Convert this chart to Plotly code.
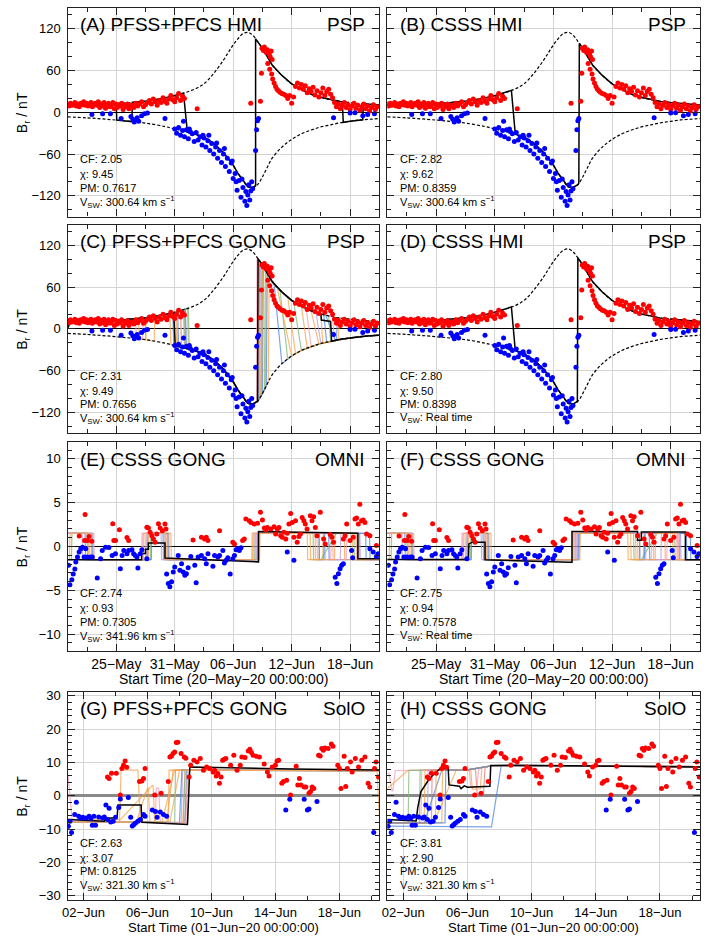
import numpy as np
import plotly.graph_objects as go

FONT = "Liberation Sans, Arial, Helvetica, sans-serif"
MINUS = "\u2212"

# ---------------- PSP, days since 20-May-20 00:00 ----------------
psp_day = [
    0.0, 0.15, 0.3, 0.45, 0.6, 0.75, 0.9, 1.05, 1.2, 1.35, 1.5, 1.65, 1.8, 1.95, 2.1, 2.25, 2.4, 2.55, 2.7, 2.85,
    3.0, 3.15, 3.3, 3.45, 3.6, 3.75, 3.9, 4.05, 4.2, 4.35, 4.5, 4.65, 4.8, 4.95, 5.1, 5.25, 5.4, 5.55, 5.7, 5.85,
    6.0, 6.15, 6.3, 6.45,
    2.5, 3.6, 4.4, 5.5, 6.5, 6.7, 6.85, 7.0, 7.15, 7.3, 7.6, 7.9, 8.2, 10.0, 11.9,
    6.6, 6.8, 7.0, 7.2, 7.4, 7.6, 7.8, 8.0, 8.2, 8.4, 8.6, 8.8, 9.0, 9.2, 9.4, 9.6, 9.8, 10.0, 10.2, 10.4,
    10.6, 10.8, 11.0, 11.2, 11.4, 11.6, 11.8, 12.0, 13.3,
    11.0, 11.2, 11.4, 11.6, 11.8, 12.0, 12.2, 12.4, 12.6, 12.8, 13.0, 13.2, 13.4, 13.6, 13.8, 14.0, 14.2, 14.4,
    14.6, 14.8, 15.0, 15.2, 15.4, 15.6, 15.8, 16.0, 16.2, 16.4, 16.6, 16.8, 17.0, 17.2, 17.4, 17.6, 17.8, 18.0,
    18.2, 18.3, 18.4, 18.5, 18.6, 18.7, 18.8, 18.9, 19.0, 19.3, 19.4, 19.5, 19.6,
    14.5, 15.3, 16.1, 16.9, 17.3, 17.9, 12.5, 13.9,
    18.8, 19.8, 19.9, 19.95, 20.1, 20.2, 20.4, 20.5, 20.7, 20.8, 20.9, 21.0, 20.55, 20.75, 20.95, 21.05,
    21.2, 21.35, 21.5, 21.65, 21.8, 22.0, 22.2, 22.4, 22.6, 22.8, 23.0, 23.2, 23.4, 23.6, 23.8, 24.0, 24.2, 24.4,
    24.6, 24.8, 25.0, 25.2, 25.4, 25.6, 25.8, 26.0, 26.2, 26.4, 26.6, 26.8, 27.0, 27.2, 27.4, 27.6, 27.8, 28.0,
    28.2, 28.4, 28.6, 28.8, 29.0, 29.2, 29.4, 29.6, 29.8, 30.0, 30.2, 30.4, 30.6, 30.8, 31.0, 31.2, 31.4, 31.6,
    31.8,
    27.3, 29.0, 29.5, 30.3, 30.8, 31.5,
]
psp_br = [
    12, 9, 13, 10, 11, 14, 9, 12, 8, 13, 11, 15, 10, 13, 9, 12, 14, 8, 11, 13,
    10, 15, 7, 12, 9, 14, 6, 11, 13, 8, 10, 14, 5, 12, 7, 11, 9, 13, 4, 10,
    8, 12, 5, 9,
    -3, -2, -2, -9, -6, -10, -14, -11, -8, -13, -5, -2, -1, -9, -13,
    10, 7, 13, 9, 12, 15, 8, 11, 14, 17, 12, 19, 15, 10, 17, 14, 21, 16, 13, 19,
    24, 18, 15, 21, 27, 17, 23, 20, 5,
    -24, -30, -22, -33, -26, -35, -25, -38, -28, -31, -42, -29, -40, -35, -47, -37, -50, -41,
    -55, -45, -60, -50, -66, -55, -72, -60, -78, -66, -85, -73, -95, -88, -112, -98, -122, -108,
    -128, -114, -134, -119, -104, -126, -113, -100, -110, -55, -25, -12, -9,
    -33, -44, -52, -70, -100, -96, -24, -33,
    13, 16, 56, 92, 89, 94, 86, 90, 84, 80, 88, 76, 70, 62, 55, 48,
    42, 37, 33, 31, 29, 27, 26, 24, 20, 24, 13, 22, 37, 42, 35, 40, 33, 38,
    28, 34, 30, 36, 25, 31, 22, 28, 35, 24, 30, 33, 26, 21, 14, 8, 12, 5,
    10, 14, 7, 11, 4, 9, 13, 6, 10, 3, 8, 12, 5, 9, 2, 7, 11, 4,
    8,
    -8, -1, -0.5, -5, -3, -2,
]

# model envelope (dashed), PSP
env_day = [0, 2, 4, 6, 8, 10, 11, 12, 13, 14, 15, 16, 16.5, 17, 17.5, 18, 18.5, 19, 19.5, 20, 20.5, 21,
           22, 23, 24, 25, 26, 27, 28, 29, 30, 31, 32]
env_up = [10, 11, 12, 13.5, 16, 20.5, 24, 28, 33, 41, 56, 75, 86, 97, 106, 113, 115, 111, 102, 92, 80, 68,
          53, 41, 33, 26, 21.5, 18, 15.5, 14, 12.5, 11.5, 10.5]
env_lo = [-6.5, -8, -10, -12.5, -15.5, -20.5, -24, -27.5, -31, -36, -45, -58, -67, -76, -88, -98, -107, -108,
          -104, -93, -79, -66, -50, -39, -31, -25.5, -21, -18, -15, -13, -11, -10, -9]

# polarity segments (start day, end day, factor: + upper / - lower)
model_a = [(0, 5.0, 1), (5.05, 6.6, -1), (6.65, 11.9, 1), (12.3, 19.3, -1), (19.3, 28.2, 1),
           (28.3, 30.3, -1), (30.35, 32, 1)]
model_b = [(0, 12.7, 1), (13.1, 19.6, -1), (19.65, 32, 1)]
model_c = [(0, 0, 0.05), (0.3, 10.9, 1), (11.05, 19.5, -1), (19.55, 26.0, 1), (26.05, 27.0, 0.6),
           (27.1, 32, -1)]
model_d = [(0, 12.7, 1), (13.1, 19.45, -1), (19.5, 28.7, 1), (28.85, 28.85, 0.2), (29.0, 32, 1)]

ens_c = [
    ("blue", [(0, 11.3, 1), (11.4, 19.6, -1), (19.7, 21.2, 1), (22.0, 32, -1)]),
    ("orange", [(0, 7.3, 1), (7.35, 8.0, -1), (8.05, 11.6, 1), (11.7, 19.8, -1), (19.9, 22.6, 1), (23.4, 32, -1)]),
    ("green", [(0, 11.9, 1), (12.0, 19.9, -1), (20.0, 21.8, 1), (22.6, 32, -1)]),
    ("pink", [(0, 7.0, 1), (7.05, 7.7, -1), (7.75, 12.0, 1), (12.05, 19.4, -1), (19.45, 24.5, 1), (25.0, 32, -1)]),
    ("purple", [(0, 10.9, 1), (11.0, 19.7, -1), (19.8, 25.5, 1), (26.0, 32, -1)]),
    ("orange", [(0, 12.3, 1), (12.4, 20.3, -1), (20.4, 24.0, 1), (24.6, 32, -1)]),
    ("blue", [(0, 10.8, 1), (10.9, 20.0, -1), (20.1, 26.3, 1), (26.6, 27.6, -1), (27.7, 32, 1)]),
    ("green", [(0, 12.4, 1), (12.5, 19.9, -1), (20.0, 23.2, 1), (24.0, 32, -1)]),
    ("orange", [(0, 8.0, 1), (8.05, 8.9, -1), (8.95, 11.2, 1), (11.3, 20.6, -1), (20.7, 26.0, 1), (26.2, 27.8, -1),
                (27.9, 32, 1)]),
    ("pink", [(0, 11.6, 1), (11.7, 19.5, -1), (19.6, 27.2, 1), (27.4, 32, -1)]),
    ("orange", [(0, 11.1, 1), (11.2, 19.9, -1), (20.0, 25.0, 1), (25.8, 32, -1)]),
    ("green", [(0, 12.0, 1), (12.1, 20.2, -1), (20.3, 26.8, 1), (27.0, 32, -1)]),
    ("orange", [(0, 10.5, 1), (10.6, 19.5, -1), (19.6, 21.5, 1), (23.0, 32, -1)]),
    ("blue", [(0, 12.1, 1), (12.2, 20.4, -1), (20.5, 26.5, 1), (27.5, 32, -1)]),
]

# ---------------- OMNI, days since 20-May-20 00:00 ----------------
omni_day = [
    0.1, 0.24, 0.44, 0.58, 0.75, 0.85, 1.02, 1.19, 1.36, 1.53, 1.7, 1.87, 2.03, 2.37, 2.54, 3.05, 3.39, 3.56,
    3.9, 4.24, 4.58, 4.92, 5.42, 5.6, 5.77, 6.1, 6.27, 6.61, 6.78, 6.95, 7.12, 7.22, 7.46, 7.63, 8.14,
    1.2, 1.8, 1.75, 2.03, 2.2, 2.48, 4.64, 4.75, 4.92, 5.32, 6.1, 6.27, 8.14, 8.3, 8.48, 8.65, 8.82, 8.99,
    9.16, 9.33, 9.5, 9.73, 10.0, 10.1,
    10.17, 10.34, 10.5, 10.68, 10.85, 11.0, 11.36, 11.53, 11.7, 11.87, 12.04, 12.2, 12.38, 12.65, 13.06, 13.2,
    13.4, 13.74, 14.07, 14.24, 14.41, 14.92, 15.09, 15.43, 15.6, 15.94, 16.1, 16.28, 16.45, 16.69, 16.96,
    17.13, 17.3, 17.46, 17.63, 17.8,
    12.88, 13.74, 14.07, 14.24, 14.41, 15.6, 16.96, 17.13,
    17.97, 18.14, 18.3, 18.65, 18.82, 19.15, 19.5, 19.8, 20.0, 20.2, 20.35, 20.5, 20.86, 21.2, 21.36, 21.53,
    21.7, 21.87, 22.04, 22.2, 22.4, 22.55, 22.72, 22.9, 23.06, 23.23, 23.4, 23.57, 23.74, 23.9, 24.08, 24.25,
    24.4, 24.58, 24.92, 25.09, 25.26, 25.43, 25.6, 25.94, 26.28, 26.45, 26.96, 27.13, 27.3, 28.31, 28.48,
    28.65, 28.99, 29.32, 29.5, 29.67, 29.84, 30.0, 30.18, 30.35, 30.52, 30.69, 31.03, 31.7,
    22.55, 23.23, 27.47, 27.64, 27.8, 27.97, 28.14, 28.31, 29.15, 29.26, 31.03, 31.37, 31.7, 31.87,
]
omni_br = [
    -2.15, -4.37, -3.8, -3.13, -2.56, -1.77, -1.2, -0.64, -0.26, -0.08, -1.2, -0.26, -1.2, -1.2, -1.2, -3.6,
    -1.4, -0.45, -0.08, -0.1, -1.02, -0.83, -2.53, -1.02, -0.45, -0.83, -0.45, -0.38, -0.83, -1.02, -1.2,
    -2.45, -0.83, -0.38, -1.4,
    1.2, 3.65, 0.68, 0.68, 1.13, 0.6, 2.6, 0.68, 0.68, 1.92, 1.02, 0.68, 2.2, 2.11, 1.62, 1.24, 0.87, 0.5,
    1.43, 2.6, 2.11, 1.81, 2.56, 2.0,
    -3.13, -4.22, -4.6, -4.03, -2.9, -2.34, -1.02, -2.71, -1.96, -2.9, -3.28, -3.1, -2.41, -1.13, -2.15,
    -4.14, -1.2, -1.02, -1.4, -1.96, -0.83, -2.26, -1.02, -1.2, -1.02, -0.45, -1.88, -1.58, -1.28, -3.13,
    -1.4, -1.02, -0.38, -0.26, -0.45, -0.15,
    0.75, 1.05, 0.87, 1.05, 0.68, 1.81, 0.49, 0.3,
    0.68, 0.87, 3.13, 2.94, 2.75, 2.56, 2.64, 3.9, 3.01, 2.11, 1.88, 2.18, 2.0, 2.26, 1.43, 2.0,
    2.18, 1.24, 1.05, 1.62, 0.87, 1.51, 2.56, 3.77, 2.75, 1.05, 2.94, 0.49, 1.13, 1.43, 3.32, 2.94,
    2.56, 2.0, 3.5, 2.94, 3.39, 2.18, 1.24, 3.9, 0.87, 0.3, 1.36, 1.05, 0.49, 0.87, 1.24,
    2.56, 0.68, 1.05, 3.13, 3.24, 2.56, 4.82, 2.94, 3.01, 2.75, 1.43, 1.24, 0.11,
    -0.64, -1.58, -3.5, -4.22, -3.1, -2.53, -2.15, -1.96, -0.45, -1.28, -0.26, -0.64, -1.13, -0.83,
]

omni_env_day = [0, 32]
omni_env_up = [1.5, 1.5]
omni_env_lo = [-1.5, -1.5]

model_e_day = [0, 7.6, 7.6, 8.0, 8.0, 8.3, 8.3, 10.0, 10.0, 14, 19.6, 19.6, 25, 29.8, 29.8, 32]
model_e_br = [-1.5, -1.5, -0.8, -0.8, -0.3, -0.3, 0.4, 0.4, -1.3, -1.5, -1.75, 1.7, 1.6, 1.5, -1.4, -1.4]
model_f_day = [0, 8.3, 8.35, 8.7, 10.0, 10.0, 18.6, 18.9, 18.9, 25.6, 25.6, 26.0, 26.0, 30.5, 30.5, 32]
model_f_br = [-1.47, -1.47, 0.3, 0.5, 0.5, -1.5, -1.8, -1.8, 1.7, 1.7, 0.7, 0.7, 1.65, 1.65, -1.5, -1.5]

ens_omni = [
    ("pink", [(0, 2.2, 1), (2.25, 7.6, -1), (7.65, 10.2, 1), (10.25, 19.3, -1), (19.35, 25.6, 1), (25.65, 27.0, -1),
              (27.1, 29.6, 1), (29.65, 32, -1)]),
    ("orange", [(0, 2.6, 1), (2.65, 8.0, -1), (8.05, 10.4, 1), (10.45, 19.0, -1), (19.05, 25.4, 1),
                (25.45, 26.2, -1), (26.25, 29.2, 1), (29.25, 32, -1)]),
    ("blue", [(0, 1.8, 1), (1.85, 8.2, -1), (8.25, 9.8, 1), (9.85, 19.5, -1), (19.55, 26.8, 1), (26.85, 29.9, -1),
              (29.95, 30.6, 1), (30.65, 32, -1)]),
    ("green", [(0, 0.4, -1), (0.45, 2.0, 1), (2.05, 8.5, -1), (8.55, 10.0, 1), (10.05, 19.2, -1), (19.25, 25.2, 1),
               (25.25, 26.0, -1), (27.6, 29.4, 1), (29.45, 32, -1)]),
    ("orange", [(0, 2.4, 1), (2.45, 7.8, -1), (7.85, 10.6, 1), (10.65, 18.9, -1), (18.95, 24.6, 1),
                (24.65, 25.8, -1), (25.85, 28.4, 1), (28.45, 32, -1)]),
    ("purple", [(0, 1.5, 1), (1.55, 8.1, -1), (8.15, 9.6, 1), (9.65, 19.4, -1), (19.45, 26.4, 1), (26.45, 28.0, -1),
                (28.05, 30.0, 1), (30.05, 32, -1)]),
    ("blue", [(0, 2.5, 1), (2.55, 8.6, -1), (8.65, 10.3, 1), (10.35, 19.6, -1), (19.65, 25.8, 1), (25.85, 26.3, -1),
              (26.35, 31.0, 1), (31.05, 32, -1)]),
    ("pink", [(0, 2.7, 1), (2.75, 7.7, -1), (7.75, 9.9, 1), (9.95, 19.1, -1), (19.15, 27.2, 1), (27.25, 28.6, -1),
              (28.65, 29.8, 1), (29.85, 32, -1)]),
    ("orange", [(0, 0.2, -1), (0.25, 2.1, 1), (2.15, 8.3, -1), (8.35, 10.1, 1), (10.15, 19.7, -1), (19.75, 24.9, 1),
                (24.95, 27.4, -1), (27.45, 29.7, 1), (29.75, 32, -1)]),
]

# ---------------- SolO, days since 01-Jun-20 00:00 ----------------
solo_day = [
    0.05, 0.15, 0.25, 0.45, 0.55, 0.7, 0.8, 0.95, 1.15, 1.35, 1.45, 1.55, 1.65, 1.75, 1.95, 2.2, 2.3, 2.4, 2.5,
    2.6, 2.7, 2.85, 3.0, 3.2, 3.3, 3.8, 3.95, 4.05, 4.15, 4.25, 4.4, 4.55, 4.75, 4.85, 5.3, 5.5, 5.6, 5.8, 6.0,
    6.2, 13.65, 13.9, 14.8, 15.0, 15.1, 15.6, 19.15,
    2.5, 2.6, 2.75, 3.05, 3.3, 3.4, 3.5, 3.6, 3.7, 4.5, 4.65, 4.75, 4.85, 5.45, 5.85, 6.3, 6.4, 6.5, 6.6, 6.7,
    6.8, 6.9, 7.1, 7.3, 7.4, 7.6, 7.7, 7.9, 8.1, 8.3, 8.5, 8.7, 8.9, 9.1, 9.2, 9.3, 9.4, 9.5, 9.6, 9.7, 9.8,
    9.9, 10.2, 10.4, 10.6, 10.8, 10.9, 11.1, 11.3, 11.4, 11.5, 11.6, 11.8, 12.0, 12.3, 12.5, 12.6, 12.8, 13.0,
    13.1, 13.2, 13.4, 13.5, 13.7, 13.95, 14.3, 14.4, 14.5, 14.6, 14.8, 14.9, 15.1, 15.2, 15.3, 15.4, 15.7,
    15.8, 15.9, 16.0, 16.1, 16.3, 16.5, 16.6, 16.9, 17.0, 17.1, 17.3, 17.4, 17.5, 17.7, 17.8, 18.0, 18.2,
    18.4, 18.6, 18.8, 18.9, 19.2, 19.3, 19.45,
]
solo_br = [
    -9.1, -7.6, -11, -5.6, -1.9, -6.1, -6.6, -6.4, -6.6, -6.1, -6.8, -8.8, -6.1, -8.8, -6.3, -6.6, -6.3, -2.7,
    -7.1, -3.7, -7.8, -7.6, -6.4, -3.5, -0.9, -0.5, -6.4, -9.0, -8.6, -8.1, -7.6, -7.1, -5.6, -6.1, -4.2,
    -4.7, -6.4, -4.8, -5.6, -6.1, -4.2, -1.0, -1.0, -4.2, -3.9, -1.7, -11,
    5.7, 5.2, 6.8, 6.8, 0.3, 8.2, 9.2, 10.5, 8.6, 4.3, 4.5, 5.2, 8.2, 0.3, 0.8, 4.3, 11.7, 12.0, 12.7, 13.2,
    16.0, 16.1, 12.7, 11.7, 11.3, 5.7, 9.2, 10.7, 10.2, 11.2, 7.7, 8.7, 8.2, 7.2, 7.7, 6.0, 6.7, 3.8, 5.7,
    10.7, 11.0, 11.2, 9.2, 12.2, 7.7, 9.2, 11.7, 11.5, 13.5, 14.0, 13.0, 12.2, 11.9, 11.7, 9.6, 7.2, 6.0,
    8.7, 9.2, 10.5, 10.7, 3.8, 4.3, 4.7, 0.3, 8.9, 3.3, 5.2, 3.3, 2.7, 2.7, 0.8, 1.3, 2.7, 2.2, 12.2, 12.0,
    14.2, 13.7, 14.4, 14.2, 15.6, 14.9, 9.2, 8.2, 2.2, 11.9, 2.8, 8.2, 10.2, 7.2, 11.2, 8.7, 10.7, 11.7,
    3.8, 2.7, 8.2, 10.2, 5.7,
]

g_env_day = [0, 19.5]
g_env_up = [7.8, 7.6]
g_env_lo = [-7.8, -8.3]
h_env_day = [0, 5, 6.5, 19.5]
h_env_up = [7.6, 7.8, 9.0, 8.8]
h_env_lo = [-8.1, -8.1, -8.3, -8.3]

model_g_day = [0, 2.3, 2.4, 3.1, 3.15, 4.6, 4.65, 7.5, 7.65, 10, 14, 19.5]
model_g_br = [-7.1, -7.6, -6.8, -6.5, -2.7, -2.7, -7.9, -8.6, 8.7, 8.4, 8.1, 7.8]
model_h_day = [0, 1.8, 1.9, 2.1, 2.4, 2.6, 2.9, 3.2, 3.3, 3.8, 3.85, 4.5, 4.6, 4.8, 5.0, 6.4, 6.45, 8, 12, 19.5]
model_h_br = [-7.1, -7.5, -3.5, 1.3, 3.5, 5.0, 6.5, 7.6, 8.2, 8.3, 3.3, 2.9, 2.2, 3.0, 2.6, 2.9, 9.1, 9.2, 9.0,
              8.7]

ens_g = [
    ("pink", [(0, 0.02, 0.85), (0.3, 7.3, -1), (7.6, 19.5, 1)]),
    ("orange", [(0, 3.25, -1), (3.35, 4.4, 1), (4.55, 6.2, -1), (6.6, 19.5, 1)]),
    ("orange", [(0, 3.3, -0.9), (5.3, 5.35, 0.4), (5.45, 6.4, -1), (7.0, 19.5, 1)]),
    ("orange", [(0, 4.3, -1), (5.0, 5.05, 0.3), (5.15, 7.2, -1), (7.35, 19.5, 1)]),
    ("green", [(0, 6.7, -1), (6.75, 19.5, 1)]),
    ("blue", [(0, 7.35, -1), (7.45, 19.5, 1)]),
    ("orange", [(0, 6.3, -1), (6.35, 19.35, 1), (19.5, 19.5, -0.7)]),
    ("purple", [(0, 7.1, -1), (7.2, 19.5, 1)]),
    ("orange", [(0, 7.5, -1), (7.62, 19.5, 1)]),
    ("blue", [(0, 7.0, -1), (7.15, 19.5, 1)]),
    ("green", [(0, 7.25, -1), (7.35, 19.5, 1)]),
    ("pink", [(0, 5.5, -1), (5.55, 5.7, 0.3), (5.8, 7.4, -1), (7.5, 19.5, 1)]),
    ("orange", [(0, 5.9, -1), (6.7, 19.5, 1)]),
]
ens_h = [
    ("orange", [(0, 0.02, 0.3), (1.3, 19.5, 1)]),
    ("pink", [(0, 0.1, 0.9), (0.3, 0.35, 0.2), (0.5, 19.5, 1)]),
    ("green", [(0, 1.3, -1), (1.35, 19.5, 1)]),
    ("green", [(0, 2.0, -1), (2.05, 19.5, 1)]),
    ("pink", [(0, 2.1, -1), (2.15, 5.1, 1), (5.2, 5.6, 0.35), (5.7, 19.5, 1)]),
    ("orange", [(0, 2.3, -1), (2.35, 19.5, 1)]),
    ("purple", [(0, 2.5, -1), (2.55, 19.5, 1)]),
    ("red", [(0, 2.75, -1), (2.8, 5.5, 1), (5.6, 6.0, 0.1), (6.1, 19.5, 1)]),
    ("blue", [(0, 2.3, -1), (3.4, 19.5, 1)]),
    ("orange", [(0, 2.9, -1), (4.3, 5.2, 1), (5.3, 5.8, 0.25), (5.9, 19.5, 1)]),
    ("blue", [(0, 6.5, -1.12), (7.1, 19.5, 1)]),
    ("orange", [(0, 3.0, -1), (3.05, 19.5, 1)]),
    ("orange", [(0, 3.4, -1), (3.45, 19.5, 1)]),
    ("blue", [(0, 3.6, -1), (3.65, 19.5, 1)]),
]

ENS_COLORS = {"blue": "#4f86e0", "orange": "#f5a54f", "green": "#7fba7a", "pink": "#f3a0b6",
              "purple": "#b89be0", "red": "#f07a7a"}

panels = [
    ("(A) PFSS+PFCS HMI", "PSP", ["2.05", "9.45", "0.7617", "300.64 km s<sup>" + MINUS + "1</sup>"]),
    ("(B) CSSS HMI", "PSP", ["2.82", "9.62", "0.8359", "300.64 km s<sup>" + MINUS + "1</sup>"]),
    ("(C) PFSS+PFCS GONG", "PSP", ["2.31", "9.49", "0.7656", "300.64 km s<sup>" + MINUS + "1</sup>"]),
    ("(D) CSSS HMI", "PSP", ["2.80", "9.50", "0.8398", "Real time"]),
    ("(E) CSSS GONG", "OMNI", ["2.74", "0.93", "0.7305", "341.96 km s<sup>" + MINUS + "1</sup>"]),
    ("(F) CSSS GONG", "OMNI", ["2.75", "0.94", "0.7578", "Real time"]),
    ("(G) PFSS+PFCS GONG", "SolO", ["2.63", "3.07", "0.8125", "321.30 km s<sup>" + MINUS + "1</sup>"]),
    ("(H) CSSS GONG", "SolO", ["3.81", "2.90", "0.8125", "321.30 km s<sup>" + MINUS + "1</sup>"]),
]

omni_ticks = [5, 11, 17, 23, 29]
omni_labels = ["25" + MINUS + "May", "31" + MINUS + "May", "06" + MINUS + "Jun", "12" + MINUS + "Jun",
               "18" + MINUS + "Jun"]
solo_ticks = [1, 5, 9, 13, 17]
solo_labels = ["02" + MINUS + "Jun", "06" + MINUS + "Jun", "10" + MINUS + "Jun", "14" + MINUS + "Jun",
               "18" + MINUS + "Jun"]


def polarity_line(days, up, lo, segs):
    xs, ys = [], []
    for a, b, f in segs:
        ref = up if f > 0 else lo
        pts = [a] + [d for d in days if a < d < b] + ([b] if b > a else [])
        for d in pts:
            xs.append(d)
            ys.append(abs(f) * float(np.interp(d, days, ref)))
    return xs, ys


fig = go.Figure()


def axes_of(i):
    return dict(xaxis="x" if i == 0 else f"x{i + 1}", yaxis="y" if i == 0 else f"y{i + 1}")


def add_obs(days, vals, i):
    d = np.array(days, dtype=float)
    v = np.array(vals, dtype=float)
    for mask, col in ((v > 0, "#ff0000"), (v < 0, "#0000ff")):
        fig.add_trace(go.Scatter(x=d[mask], y=v[mask], mode="markers", showlegend=False,
                                 marker=dict(color=col, size=5, line=dict(width=0)), **axes_of(i)))


def add_line(x, y, i, color, width, dash=None, opacity=1.0, shape="linear"):
    fig.add_trace(go.Scatter(x=x, y=y, mode="lines", showlegend=False, opacity=opacity,
                             line=dict(color=color, width=width, dash=dash, shape=shape), **axes_of(i)))


def add_ensemble(members, days, up, lo, i):
    for cname, segs in members:
        x, y = polarity_line(days, up, lo, segs)
        add_line(x, y, i, ENS_COLORS[cname], 1.2, opacity=0.75)


# PSP panels A-D
for i, segs in enumerate([model_a, model_b, model_c, model_d]):
    if i == 2:
        add_ensemble(ens_c, env_day, env_up, env_lo, i)
    add_line(env_day, env_up, i, "black", 1.2, dash="3px,2px", shape="spline")
    add_line(env_day, env_lo, i, "black", 1.2, dash="3px,2px", shape="spline")
    x, y = polarity_line(env_day, env_up, env_lo, segs)
    add_line(x, y, i, "black", 1.5)
    add_obs(psp_day, psp_br, i)

# OMNI panels E-F
for i, (md, mb) in zip([4, 5], [(model_e_day, model_e_br), (model_f_day, model_f_br)]):
    add_ensemble(ens_omni, omni_env_day, omni_env_up, omni_env_lo, i)
    add_line(md, mb, i, "black", 1.5)
    add_obs(omni_day, omni_br, i)

# SolO panels G-H
add_ensemble(ens_g, g_env_day, g_env_up, g_env_lo, 6)
add_line(model_g_day, model_g_br, 6, "black", 1.5)
add_obs(solo_day, solo_br, 6)
add_ensemble(ens_h, h_env_day, h_env_up, h_env_lo, 7)
add_line(model_h_day, model_h_br, 7, "black", 1.5)
add_obs(solo_day, solo_br, 7)

# ---------------- layout ----------------
W, H = 706, 941
col_px = [(63, 377), (385, 700)]
row_px = [(5, 215), (223, 433), (442, 652), (693, 903)]


def px_x(p):
    return p / W


def px_y(p):
    return 1 - p / H


axis_base = dict(showline=True, linecolor="#222", linewidth=1.3, mirror="allticks", ticks="inside",
                 ticklen=7, tickwidth=1, tickcolor="#222", showgrid=True, gridcolor="#d4d4d4", gridwidth=1,
                 zeroline=False)

layout = dict(width=W, height=H, margin=dict(l=0, r=0, t=0, b=0), paper_bgcolor="white",
              plot_bgcolor="white", showlegend=False, font=dict(family=FONT, color="black"))
annotations = []

for i, (title, craft, stats) in enumerate(panels):
    r, c = divmod(i, 2)
    x0, x1 = col_px[c]
    y0, y1 = row_px[r]
    sfx = "" if i == 0 else str(i + 1)
    xfont = 14 if r < 3 else 13
    xa = dict(axis_base, domain=[px_x(x0), px_x(x1)], anchor="y" + sfx,
              tickfont=dict(size=xfont, family=FONT, color="black"))
    ya = dict(axis_base, domain=[px_y(y1), px_y(y0)], anchor="x" + sfx,
              tickfont=dict(size=13, family=FONT, color="black"))
    if r < 3:
        xa.update(range=[0, 32], tickmode="array", tickvals=omni_ticks, ticktext=omni_labels,
                  minor=dict(ticks="inside", ticklen=4, tickcolor="#222", tick0=2, dtick=3, showgrid=False))
    else:
        xa.update(range=[0, 19.5], tickmode="array", tickvals=solo_ticks, ticktext=solo_labels,
                  minor=dict(ticks="inside", ticklen=4, tickcolor="#222", tick0=1, dtick=2, showgrid=False))
    xa["showticklabels"] = r >= 2
    if r < 2:
        ya.update(range=[-150, 150], tickvals=[-120, -60, 0, 60, 120],
                  minor=dict(ticks="inside", ticklen=4, tickcolor="#222", tick0=0, dtick=20, showgrid=False))
    elif r == 2:
        ya.update(range=[-11.9, 11.9], tickvals=[-10, -5, 0, 5, 10],
                  minor=dict(ticks="inside", ticklen=4, tickcolor="#222", tick0=0, dtick=1, showgrid=False))
    else:
        ya.update(range=[-31.3, 31.3], tickvals=[-30, -20, -10, 0, 10, 20, 30],
                  minor=dict(ticks="inside", ticklen=4, tickcolor="#222", tick0=0, dtick=2, showgrid=False))
    ya["tickmode"] = "array"
    ya["ticklabelstandoff"] = 3
    ya["showticklabels"] = c == 0
    if r < 3:
        ya.update(zeroline=True, zerolinecolor="black", zerolinewidth=1)
    else:
        ya.update(zeroline=True, zerolinecolor="#8a8a8a", zerolinewidth=2.5)
    layout["xaxis" + sfx] = xa
    layout["yaxis" + sfx] = ya

    pw, ph = x1 - x0, y1 - y0
    xref, yref = "x" + sfx + " domain", "y" + sfx + " domain"
    annotations.append(dict(text=title, x=11 / pw, y=1 - 17 / ph, xref=xref, yref=yref, xanchor="left",
                            yanchor="middle", showarrow=False, font=dict(size=19, family=FONT)))
    annotations.append(dict(text=craft, x=1 - 12 / pw, y=1 - 17 / ph, xref=xref, yref=yref, xanchor="right",
                            yanchor="middle", showarrow=False, font=dict(size=19, family=FONT)))
    lines = ["CF: " + stats[0], "\u03c7: " + stats[1], "PM: " + stats[2], "V<sub>SW</sub>: " + stats[3]]
    for txt, off in zip(lines, [58, 43, 29, 15]):
        annotations.append(dict(text=txt, x=11 / pw, y=off / ph, xref=xref, yref=yref, xanchor="left",
                                yanchor="middle", showarrow=False, font=dict(size=11, family=FONT)))

    if c == 0:
        annotations.append(dict(text="B<sub>r</sub> / nT", x=px_x(18), y=px_y((y0 + y1) / 2), xref="paper",
                                yref="paper", textangle=-90, showarrow=False, xanchor="center",
                                yanchor="middle", font=dict(size=14, family=FONT)))
    if r >= 2:
        start = "20" + MINUS + "May" if r == 2 else "01" + MINUS + "Jun"
        ty = 680 if r == 2 else 930
        annotations.append(dict(text="Start Time (" + start + MINUS + "20 00:00:00)",
                                x=px_x((x0 + x1) / 2), y=px_y(ty), xref="paper", yref="paper",
                                xanchor="center", yanchor="middle",
                                showarrow=False, font=dict(size=xfont, family=FONT)))

layout["annotations"] = annotations
fig.update_layout(**layout)
# the page body has a default 8 px margin; drop it so the figure sits at the window corner
fig.write_html("out.html", config={"displayModeBar": False},
               post_script="document.body.style.margin = '0px';")
